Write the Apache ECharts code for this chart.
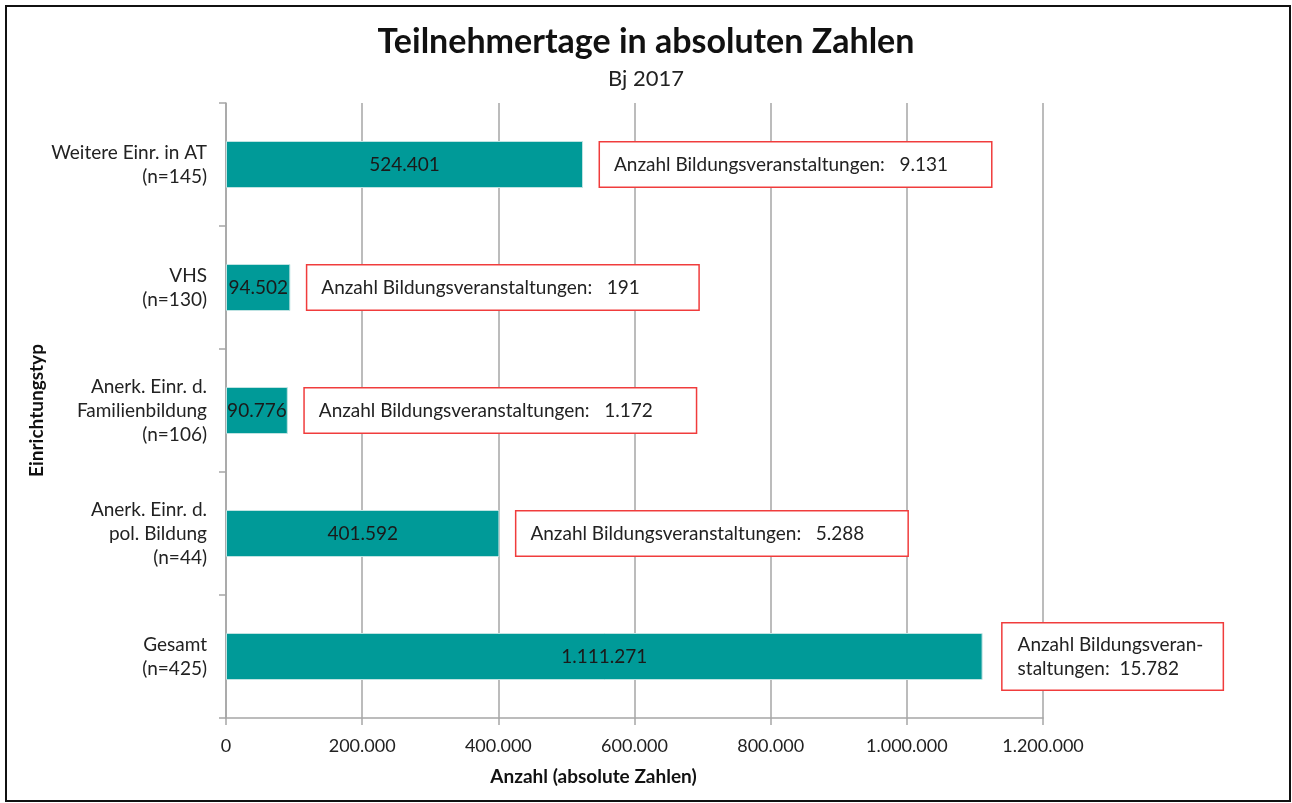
<!DOCTYPE html>
<html>
<head>
<meta charset="utf-8">
<script src="https://cdn.jsdelivr.net/npm/echarts@6/dist/echarts.min.js"></script>
<style>
  html, body { margin: 0; padding: 0; background: #fff; }
  #frame {
    position: absolute; left: 5px; top: 5px;
    width: 1282px; height: 793px;
    border: 2px solid #111;
  }
  #chart { position: absolute; left: 0; top: 0; width: 1292px; height: 803px; }
</style>
</head>
<body>
<div id="frame"></div>
<div id="chart"></div>
<script>
// Einrichtungstypen von oben nach unten
let categories = [
  'Weitere Einr. in AT\n(n=145)',
  'VHS\n(n=130)',
  'Anerk. Einr. d.\nFamilienbildung\n(n=106)',
  'Anerk. Einr. d.\npol. Bildung\n(n=44)',
  'Gesamt\n(n=425)',
]
let teilnehmertage = [524401, 94502, 90776, 401592, 1111271]
let veranstaltungen = [9131, 191, 1172, 5288, 15782]
let xTicks = [0, 200000, 400000, 600000, 800000, 1000000, 1200000]

// deutsche Tausenderpunkte
const fmt = (v) => String(v).replace(/\B(?=(\d{3})+(?!\d))/g, '.')

const fontFamily = 'Lato, "Open Sans", sans-serif'

const boxData = teilnehmertage.map((v, i) => {
  const last = i === teilnehmertage.length - 1
  return {
    value: v,
    label: last
      ? {
          formatter: 'Anzahl Bildungsveran-\nstaltungen:  ' + fmt(veranstaltungen[i]),
          width: 190,
          lineHeight: 24,
          padding: [9, 15, 9, 15],
          distance: 20,
        }
      : {
          formatter: 'Anzahl Bildungsveranstaltungen:   ' + fmt(veranstaltungen[i]),
          width: 363,
          lineHeight: 20,
          padding: [12, 14, 12, 14],
        },
  }
})

const myChart = echarts.init(document.getElementById('chart'))
myChart.setOption({
  backgroundColor: 'transparent',
  textStyle: { fontFamily: fontFamily },
  title: {
    text: 'Teilnehmertage in absoluten Zahlen',
    subtext: 'Bj 2017',
    left: 'center',
    top: 20,
    itemGap: 9,
    textStyle: { fontFamily: fontFamily, fontSize: 34, fontWeight: 'bold', color: '#111' },
    subtextStyle: { fontFamily: fontFamily, fontSize: 22, color: '#222' },
  },
  grid: { left: 226, right: 249, top: 103, bottom: 85 },
  xAxis: {
    type: 'value',
    min: 0,
    max: 1200000,
    interval: 200000,
    name: 'Anzahl (absolute Zahlen)',
    nameLocation: 'middle',
    nameGap: 49,
    nameMoveOverlap: false,
    nameTextStyle: {
      fontFamily: fontFamily, fontSize: 19, fontWeight: 'bold', color: '#111',
      padding: [0, 82, 0, 0],
    },
    axisLine: { show: true, lineStyle: { color: '#a6a6a6', width: 1.5 } },
    axisTick: { show: true, length: 7, lineStyle: { color: '#a6a6a6', width: 1.5 } },
    splitLine: { show: true, lineStyle: { color: '#a6a6a6', width: 1.5 } },
    axisLabel: {
      color: '#222', fontSize: 18, margin: 19,
      formatter: (v) => (xTicks.indexOf(v) >= 0 ? fmt(v) : ''),
    },
  },
  yAxis: {
    type: 'category',
    inverse: true,
    data: categories,
    name: 'Einrichtungstyp',
    nameLocation: 'middle',
    nameRotate: 90,
    nameGap: 180,
    nameMoveOverlap: false,
    nameTextStyle: { fontFamily: fontFamily, fontSize: 19, fontWeight: 'bold', color: '#111' },
    axisLine: { show: true, lineStyle: { color: '#a6a6a6', width: 1.5 } },
    axisTick: { show: true, length: 7, lineStyle: { color: '#a6a6a6', width: 1.5 } },
    axisLabel: { color: '#222', fontSize: 19, lineHeight: 24, margin: 19, align: 'right' },
  },
  series: [
    {
      name: 'Teilnehmertage',
      type: 'bar',
      barWidth: 47,
      data: teilnehmertage,
      itemStyle: { color: '#009a98', borderColor: '#bfe3e2', borderWidth: 1 },
      label: {
        show: true,
        position: 'inside',
        color: '#1a1a1a',
        fontSize: 19,
        formatter: (p) => fmt(p.value),
      },
      z: 2,
    },
    {
      name: 'Bildungsveranstaltungen',
      type: 'bar',
      barWidth: 47,
      barGap: '-100%',
      data: boxData,
      itemStyle: { color: 'transparent' },
      label: {
        show: true,
        position: 'right',
        distance: 17,
        color: '#222',
        fontSize: 19,
        backgroundColor: '#fff',
        borderColor: '#f03c3c',
        borderWidth: 1.5,
      },
      silent: true,
      z: 3,
    },
  ],
})
</script>
</body>
</html>
